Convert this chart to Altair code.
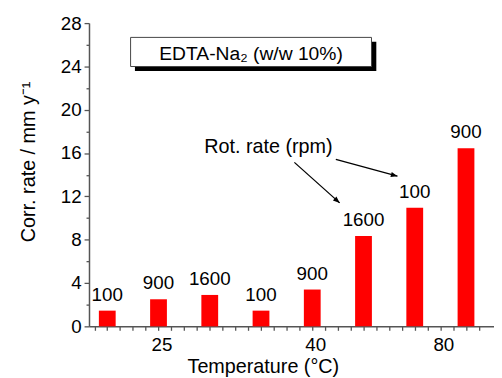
import altair as alt
import pandas as pd

# ---- data -------------------------------------------------------------
bar_pos = [1, 2, 3, 4, 5, 6, 7, 8]
corr_rate = [1.45, 2.5, 2.9, 1.45, 3.4, 8.35, 10.95, 16.45]
rot_rate = ["100", "900", "1600", "100", "900", "1600", "100", "900"]

temp_tick_pos = [2, 5, 7.5]
temp_tick_labels = ["25", "40", "80"]

legend_text = ["EDTA-Na\u2082  (w/w 10%)"]
annot_text = ["Rot. rate (rpm)"]

# annotation geometry in data units
legend_box = dict(x=[1.455], x2=[6.156], y=[26.68], y2=[23.99])
legend_shadow = dict(x=[1.54], x2=[6.25], y=[26.27], y2=[23.58])
legend_text_pos = dict(x=[3.805], y=[24.63])
annot_pos = dict(x=[4.144], y=[15.96])
arrow_start_x = [4.651, 5.460]
arrow_start_y = [15.14, 15.41]
arrow_end_x = [5.535, 6.663]
arrow_end_y = [11.40, 13.86]
arrow_angle = [131, 105]

FONT = "Liberation Sans"
AXIS_GRAY = "#555555"

df = pd.DataFrame({"x": bar_pos, "y": corr_rate, "rpm": rot_rate})

xs = alt.Scale(domain=[0.74, 8.45], nice=False, zero=False)
ys = alt.Scale(domain=[0, 28], nice=False, zero=False)

label_expr_x = " : ".join(
    f"datum.value == {p} ? '{l}'" for p, l in zip(temp_tick_pos, temp_tick_labels)
) + " : ''"

x_axis = alt.Axis(
    values=[0.75 + 0.25 * i for i in range(31)],
    labelExpr=label_expr_x,
    title="Temperature (\u00b0C)",
    grid=False,
    domainColor=AXIS_GRAY,
    domainWidth=1.5,
    tickColor=AXIS_GRAY,
    tickWidth=1.3,
    tickSize=4,
    labelFont=FONT,
    labelFontSize=19,
    labelColor="black",
    labelBaseline="alphabetic",
    labelPadding=20,
    labelOffset=3,
    labelOverlap=False,
    labelFlush=False,
    titleFont=FONT,
    titleFontSize=20,
    titleFontWeight="normal",
    titleColor="black",
    titleX=176,
    titleY=47,
    titleBaseline="alphabetic",
    titleAlign="center",
)

y_axis = alt.Axis(
    values=list(range(0, 29, 2)),
    labelExpr="datum.value % 4 == 0 ? datum.label : ''",
    title="Corr. rate / mm y\u207b\u00b9",
    grid=False,
    domainColor=AXIS_GRAY,
    domainWidth=1.5,
    tickColor=AXIS_GRAY,
    tickWidth=1.3,
    tickSize={"condition": {"test": "datum.value % 4 == 0", "value": 5}, "value": 3},
    labelFont=FONT,
    labelFontSize=19,
    labelColor="black",
    labelPadding=3,
    labelOverlap=False,
    labelFlush=False,
    titleFont=FONT,
    titleFontSize=20,
    titleFontWeight="normal",
    titleColor="black",
    titleAngle=270,
    titleX=-55,
    titleY=140,
    titleBaseline="alphabetic",
    titleAlign="center",
)

X = lambda: alt.X("x:Q", scale=xs, axis=x_axis)
Y = lambda: alt.Y("y:Q", scale=ys, axis=y_axis)

bars = alt.Chart(df).mark_bar(color="#ff0000", size=17).encode(x=X(), y=Y())

bar_text = alt.Chart(df).mark_text(
    dy=-10, baseline="alphabetic", font=FONT, fontSize=19, color="black"
).encode(x=X(), y=Y(), text="rpm:N")

shadow = alt.Chart(pd.DataFrame(legend_shadow)).mark_rect(color="black").encode(
    x=X(), x2="x2:Q", y=Y(), y2="y2:Q",
)
box = alt.Chart(pd.DataFrame(legend_box)).mark_rect(
    fill="white", stroke="#444444", strokeWidth=1
).encode(x=X(), x2="x2:Q", y=Y(), y2="y2:Q")

leg_text = alt.Chart(pd.DataFrame({**legend_text_pos, "t": legend_text})).mark_text(
    baseline="alphabetic", align="center", font=FONT, fontSize=19.5, color="black"
).encode(x=X(), y=Y(), text="t:N")

annot = alt.Chart(pd.DataFrame({**annot_pos, "t": annot_text})).mark_text(
    baseline="alphabetic", align="center", font=FONT, fontSize=20, color="black"
).encode(x=X(), y=Y(), text="t:N")

arrows_df = pd.DataFrame({
    "x": arrow_start_x, "y": arrow_start_y,
    "x2": arrow_end_x, "y2": arrow_end_y, "ang": arrow_angle,
})
arrow_lines = alt.Chart(arrows_df).mark_rule(color="black", strokeWidth=1.3).encode(
    x=X(), x2="x2:Q", y=Y(), y2="y2:Q",
)
heads_df = pd.DataFrame({"x": arrow_end_x, "y": arrow_end_y, "ang": arrow_angle})
arrow_heads = alt.Chart(heads_df).mark_point(
    shape="M0,0L-0.4,1L0.4,1Z", filled=True, color="black", opacity=1, size=180
).encode(x=X(), y=Y(), angle=alt.Angle("ang:Q", scale=None))

chart = alt.layer(
    bars, bar_text, shadow, box, leg_text, annot, arrow_lines, arrow_heads
).properties(
    width=410,
    height=307,
    autosize=alt.AutoSizeParams(type="none"),
    padding={"left": 82, "top": 13, "right": 0, "bottom": 50},
    background="white",
).configure_view(stroke=None)

chart.save("out.html", embed_options={"renderer": "svg", "actions": False})
